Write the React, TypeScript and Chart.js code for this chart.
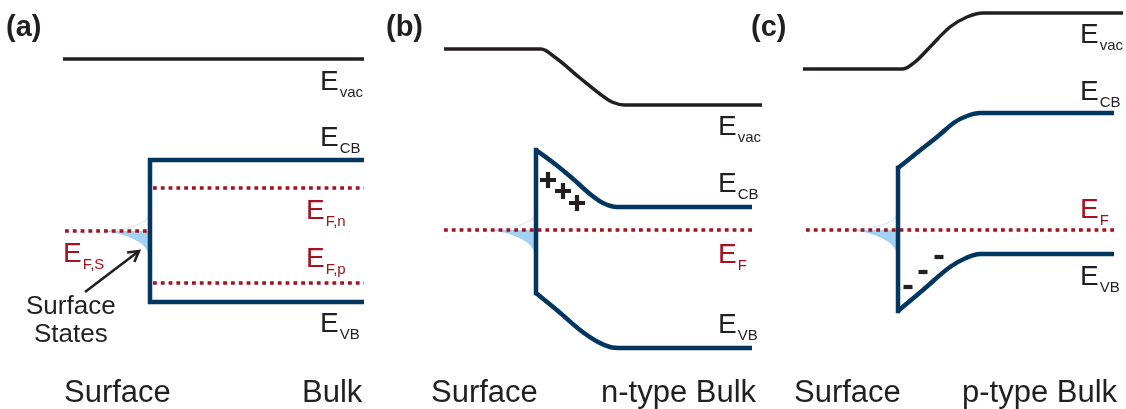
import React, { useEffect, useRef } from "react";
import { Chart, registerables } from "chart.js";

Chart.register(...registerables);

// Plot units: x runs left→right across the three panels, y runs top→bottom (reversed axis).

// ---- Panel (a): flat bands ----
const vacuumA: number[][] = [[63, 59], [364, 59]];
const bandEdgesA: number[][] = [[364, 160], [150, 160], [150, 302], [364, 302]];
const quasiFermiNA: number[][] = [[153, 188], [364, 188]];
const quasiFermiPA: number[][] = [[153, 283], [364, 283]];
const surfaceFermiA: number[][] = [[65, 231], [150, 231]];

// ---- Panel (b): n-type, upward band bending ----
const vacuumB: number[][] = [[444, 49], [541, 49], [556, 58], [580, 78], [600, 94], [612, 102], [625, 105], [762, 105]];
const wallB: number[][] = [[536, 150], [536, 293]];
const conductionB: number[][] = [[536, 150], [555, 164], [572, 178], [590, 194], [603, 203], [617, 207], [752, 207]];
const valenceB: number[][] = [[536, 293], [558, 311], [580, 330], [598, 342], [610, 347], [622, 348], [752, 348]];
const fermiB: number[][] = [[444, 230], [752, 230]];
const positiveCharges: number[][] = [[548, 180], [563, 191], [577, 203]];

// ---- Panel (c): p-type, downward band bending ----
const vacuumC: number[][] = [[803, 69], [903, 69], [915, 62], [930, 47], [950, 27], [967, 17], [983, 13], [1123, 13]];
const wallC: number[][] = [[898, 168], [898, 311]];
const conductionC: number[][] = [[898, 168], [918, 152], [937, 137], [955, 122], [967, 116], [980, 113], [1114, 113]];
const valenceC: number[][] = [[898, 311], [923, 290], [950, 267], [966, 258], [980, 254], [1114, 254]];
const fermiC: number[][] = [[806, 230], [1114, 230]];
const negativeCharges: number[][] = [[908, 287], [923, 272], [939, 257]];

// ---- Surface-state density tail (offset from surface wall / Fermi level) ----
const stateTailFilled: number[][] = [[-48, 0], [-37, 1.5], [-27, 4], [-19, 7], [-12, 10.5], [-7, 14], [-3.5, 18.5], [-1, 23]];
const stateTailEmpty: number[][] = [[-45, 0], [-22, -3], [-9, -8], [-2, -14], [0, -23]];
const surfaceAnchors: number[][] = [[150, 231], [536, 230], [898, 230]];

// ---- Pointer to the surface states ----
const pointerTail: number[] = [85, 292];
const pointerTip: number[] = [139, 251];

// ---- Text ----
type EnergyLabel = { x: number; y: number; sub: string; red?: boolean };
const energyLabels: EnergyLabel[] = [
  { x: 320, y: 90, sub: "vac" },
  { x: 320, y: 146, sub: "CB" },
  { x: 306, y: 219, sub: "F,n", red: true },
  { x: 306, y: 267, sub: "F,p", red: true },
  { x: 63, y: 262, sub: "F,S", red: true },
  { x: 320, y: 332, sub: "VB" },
  { x: 718, y: 135, sub: "vac" },
  { x: 718, y: 192, sub: "CB" },
  { x: 718, y: 263, sub: "F", red: true },
  { x: 718, y: 333, sub: "VB" },
  { x: 1080, y: 43, sub: "vac" },
  { x: 1080, y: 100, sub: "CB" },
  { x: 1080, y: 218, sub: "F", red: true },
  { x: 1080, y: 285, sub: "VB" },
];
const panelTags: [string, number, number][] = [["(a)", 6, 36], ["(b)", 386, 36], ["(c)", 751, 36]];
const regionLabels: [string, number, number][] = [
  ["Surface", 64, 402], ["Bulk", 302, 402],
  ["Surface", 431, 402], ["n-type Bulk", 601, 402],
  ["Surface", 794, 402], ["p-type Bulk", 962, 402],
];
const calloutLines: [string, number, number][] = [["Surface", 26, 314], ["States", 34, 342]];

const INK = "#231f20";
const NAVY = "#03365f";
const RED = "#a3131f";
const STATE_BLUE = "#a3d1f1";
const FONT = '"Liberation Sans", Arial, Helvetica, sans-serif';

const pts = (arr: number[][]) => arr.map(([x, y]) => ({ x, y }));

function lineSet(arr: number[][], color: string, width: number, order: number, extra: any = {}) {
  return {
    data: pts(arr),
    showLine: true,
    borderColor: color,
    borderWidth: width,
    pointRadius: 0,
    fill: false,
    tension: 0,
    order,
    ...extra,
  };
}

function arrowHead(tail: number[], tip: number[], len: number, deg: number): number[][] {
  const ang = Math.atan2(tail[1] - tip[1], tail[0] - tip[0]);
  const a = (deg * Math.PI) / 180;
  return [
    [tip[0] + len * Math.cos(ang + a), tip[1] + len * Math.sin(ang + a)],
    tip,
    [tip[0] + len * Math.cos(ang - a), tip[1] + len * Math.sin(ang - a)],
  ];
}

const labelPlugin = {
  id: "bandLabels",
  afterDatasetsDraw(chart: any) {
    const { ctx } = chart;
    const sx = chart.scales.x;
    const sy = chart.scales.y;
    ctx.save();
    ctx.textBaseline = "alphabetic";
    ctx.textAlign = "left";
    for (const l of energyLabels) {
      const px = sx.getPixelForValue(l.x);
      const py = sy.getPixelForValue(l.y);
      ctx.fillStyle = l.red ? RED : INK;
      ctx.font = `28px ${FONT}`;
      ctx.fillText("E", px, py);
      const w = ctx.measureText("E").width;
      ctx.font = `15px ${FONT}`;
      ctx.fillText(l.sub, px + w + 1, py + 7);
    }
    ctx.fillStyle = INK;
    ctx.font = `bold 29px ${FONT}`;
    for (const [t, x, y] of panelTags) ctx.fillText(t, sx.getPixelForValue(x), sy.getPixelForValue(y));
    ctx.font = `31px ${FONT}`;
    for (const [t, x, y] of regionLabels) ctx.fillText(t, sx.getPixelForValue(x), sy.getPixelForValue(y));
    ctx.font = `26px ${FONT}`;
    for (const [t, x, y] of calloutLines) ctx.fillText(t, sx.getPixelForValue(x), sy.getPixelForValue(y));
    ctx.restore();
  },
};

export default function App() {
  const canvasRef = useRef<HTMLCanvasElement>(null);

  useEffect(() => {
    document.body.style.margin = "0";
    const canvas = canvasRef.current;
    if (!canvas) return;

    const datasets: any[] = [];

    // Surface-state tails (filled occupied part + faint empty part)
    for (const [wx, wy] of surfaceAnchors) {
      datasets.push(
        lineSet(stateTailFilled.map(([dx, dy]) => [wx + dx, wy + dy]), "rgba(0,0,0,0)", 0, 20, {
          fill: { value: wy },
          backgroundColor: STATE_BLUE,
          cubicInterpolationMode: "monotone",
        })
      );
      datasets.push(
        lineSet(stateTailEmpty.map(([dx, dy]) => [wx + dx, wy + dy]), "#d3e9f8", 1.2, 19, {
          cubicInterpolationMode: "monotone",
        })
      );
    }

    // Fermi levels (dotted)
    const dotted = { borderDash: [3.8, 4], borderCapStyle: "butt" };
    for (const f of [quasiFermiNA, quasiFermiPA, surfaceFermiA, fermiB, fermiC]) {
      datasets.push(lineSet(f, RED, 3.6, 10, dotted));
    }

    // Band edges
    datasets.push(lineSet(bandEdgesA, NAVY, 4.5, 5, { borderJoinStyle: "miter" }));
    for (const w of [wallB, wallC]) datasets.push(lineSet(w, NAVY, 4.5, 5, { borderCapStyle: "square" }));
    for (const c of [conductionB, valenceB, conductionC, valenceC]) {
      datasets.push(lineSet(c, NAVY, 4.5, 5, { cubicInterpolationMode: "monotone", borderCapStyle: "butt" }));
    }

    // Vacuum levels
    datasets.push(lineSet(vacuumA, INK, 3.5, 4));
    for (const v of [vacuumB, vacuumC]) {
      datasets.push(lineSet(v, INK, 3.5, 4, { cubicInterpolationMode: "monotone" }));
    }

    // Pointer arrow
    datasets.push(lineSet([pointerTail, pointerTip], INK, 2.6, 2));
    datasets.push(lineSet(arrowHead(pointerTail, pointerTip, 12, 30), INK, 2.6, 2, { borderJoinStyle: "miter" }));

    // Space charges
    datasets.push({
      data: pts(positiveCharges),
      pointStyle: "cross",
      pointRadius: 8,
      pointBorderWidth: 4.2,
      pointBorderColor: INK,
      pointBackgroundColor: INK,
      showLine: false,
      order: 1,
    });
    datasets.push({
      data: pts(negativeCharges),
      pointStyle: "line",
      pointRadius: 4.5,
      pointBorderWidth: 4.2,
      pointBorderColor: INK,
      pointBackgroundColor: INK,
      showLine: false,
      order: 1,
    });

    const chart = new Chart(canvas, {
      type: "scatter",
      data: { datasets },
      options: {
        animation: false,
        responsive: false,
        devicePixelRatio: 1,
        events: [],
        layout: { padding: 0, autoPadding: false },
        scales: {
          x: { type: "linear", min: 0, max: 1126, display: false },
          y: { type: "linear", min: 0, max: 409, reverse: true, display: false },
        },
        plugins: {
          legend: { display: false },
          tooltip: { enabled: false },
          filler: { propagate: false },
        },
      } as any,
      plugins: [labelPlugin],
    });

    return () => chart.destroy();
  }, []);

  return (
    <div style={{ width: 1126, height: 409, background: "#ffffff" }}>
      <canvas ref={canvasRef} width={1126} height={409} style={{ display: "block" }} />
    </div>
  );
}
